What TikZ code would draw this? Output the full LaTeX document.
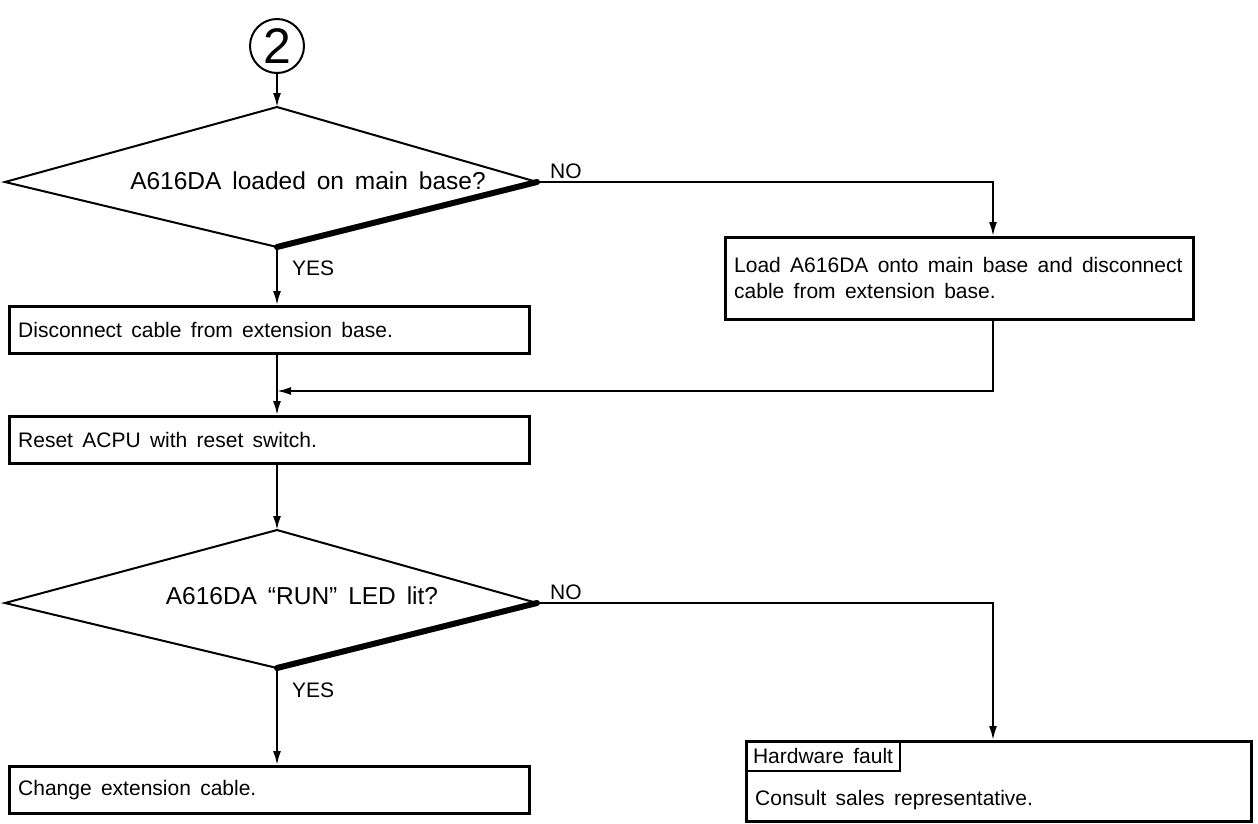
\documentclass[tikz,border=0pt]{standalone}
\usepackage{fontspec}
\setmainfont{Liberation Sans}[WordSpace=1.6]
\usetikzlibrary{arrows.meta}
\begin{document}
\begin{tikzpicture}[x=1pt,y=-1pt,
  every node/.style={font=\fontsize{21}{26}\selectfont},
  box/.style={draw,line width=2.6pt,anchor=north west,inner sep=0pt},
  txt/.style={inner sep=0pt,anchor=west},
  arr/.style={line width=2pt,-{Latex[length=14pt,width=8pt]}},
  dia/.style={line width=2pt,line join=miter},
  thk/.style={line width=6pt,line cap=round},
  qtext/.style={inner sep=0pt,font=\fontsize{24.5}{28}\selectfont},
  lbl/.style={inner sep=0pt}]
\useasboundingbox (0,0) rectangle (1258,823);
\fill[white] (0,0) rectangle (1258,823);

% connector circle
\node[circle,draw,line width=2pt,minimum size=54pt,inner sep=0pt,font=\fontsize{50}{50}\selectfont] (c2) at (277,46) {2};

% decision 1
\coordinate (d1t) at (277,107);
\coordinate (d1l) at (5,182);
\coordinate (d1b) at (277,247);
\coordinate (d1r) at (537,182);
\draw[dia] (d1t) -- (d1l) -- (d1b) -- (d1r) -- cycle;
\draw[thk] (d1b) -- (d1r);
\node[qtext] (q1) at (308,181) {A616DA loaded on main base?};
\draw[arr] (c2) -- (d1t);

% boxes
\node[box,minimum width=520pt,minimum height=47pt] (b1) at (8,305) {};
\node[txt] (t1) at ([xshift=10pt]b1.west) {Disconnect cable from extension base.};
\node[box,minimum width=468pt,minimum height=82pt] (b2) at (724,236) {};
\node[txt,align=left] (t2) at ([xshift=10pt]b2.west) {Load A616DA onto main base and disconnect\\cable from extension base.};
\node[box,minimum width=520pt,minimum height=47pt] (b3) at (8,415) {};
\node[txt] (t3) at ([xshift=10pt]b3.west) {Reset ACPU with reset switch.};

\node[lbl,anchor=west] (y1) at (292,268) {YES};
\node[lbl,anchor=south west] (n1) at (550,179) {NO};
\coordinate (k1) at (993,182);
\coordinate (k2) at (993,391);
\coordinate (j1) at (277,391);

\draw[arr] (d1b) -- (d1b |- b1.north);
\draw[arr] (d1r) -- (k1) -- (k1 |- b2.north);
\draw[arr] (k1 |- b2.south) -- (k2) -- (j1);
\draw[arr] (d1b |- b1.south) -- (d1b |- b3.north);

% decision 2
\coordinate (d2t) at (277,530);
\coordinate (d2l) at (5,603);
\coordinate (d2b) at (277,668);
\coordinate (d2r) at (537,603);
\draw[arr] (d1b |- b3.south) -- (d2t);
\draw[dia] (d2t) -- (d2l) -- (d2b) -- (d2r) -- cycle;
\draw[thk] (d2b) -- (d2r);
\node[qtext] (q2) at (302,596) {A616DA ``RUN'' LED lit?};

\node[lbl,anchor=west] (y2) at (292,690) {YES};
\node[lbl,anchor=south west] (n2) at (550,600) {NO};

\node[box,minimum width=520pt,minimum height=47pt] (b4) at (8,765) {};
\node[txt] (t4) at ([xshift=10pt]b4.west) {Change extension cable.};
\draw[arr] (d2b) -- (d2b |- b4.north);

\node[box,minimum width=505pt,minimum height=80pt] (b5) at (745,740) {};
\node[draw,line width=2pt,anchor=north west,inner xsep=7pt,inner ysep=0pt,minimum height=30pt] (hf) at (b5.north west) {Hardware fault\hspace{6pt}};
\node[txt] (cs) at (755,800) {Consult sales representative.};
\coordinate (k3) at (993,603);
\draw[arr] (d2r) -- (k3) -- (k3 |- b5.north);
\end{tikzpicture}
\end{document}
